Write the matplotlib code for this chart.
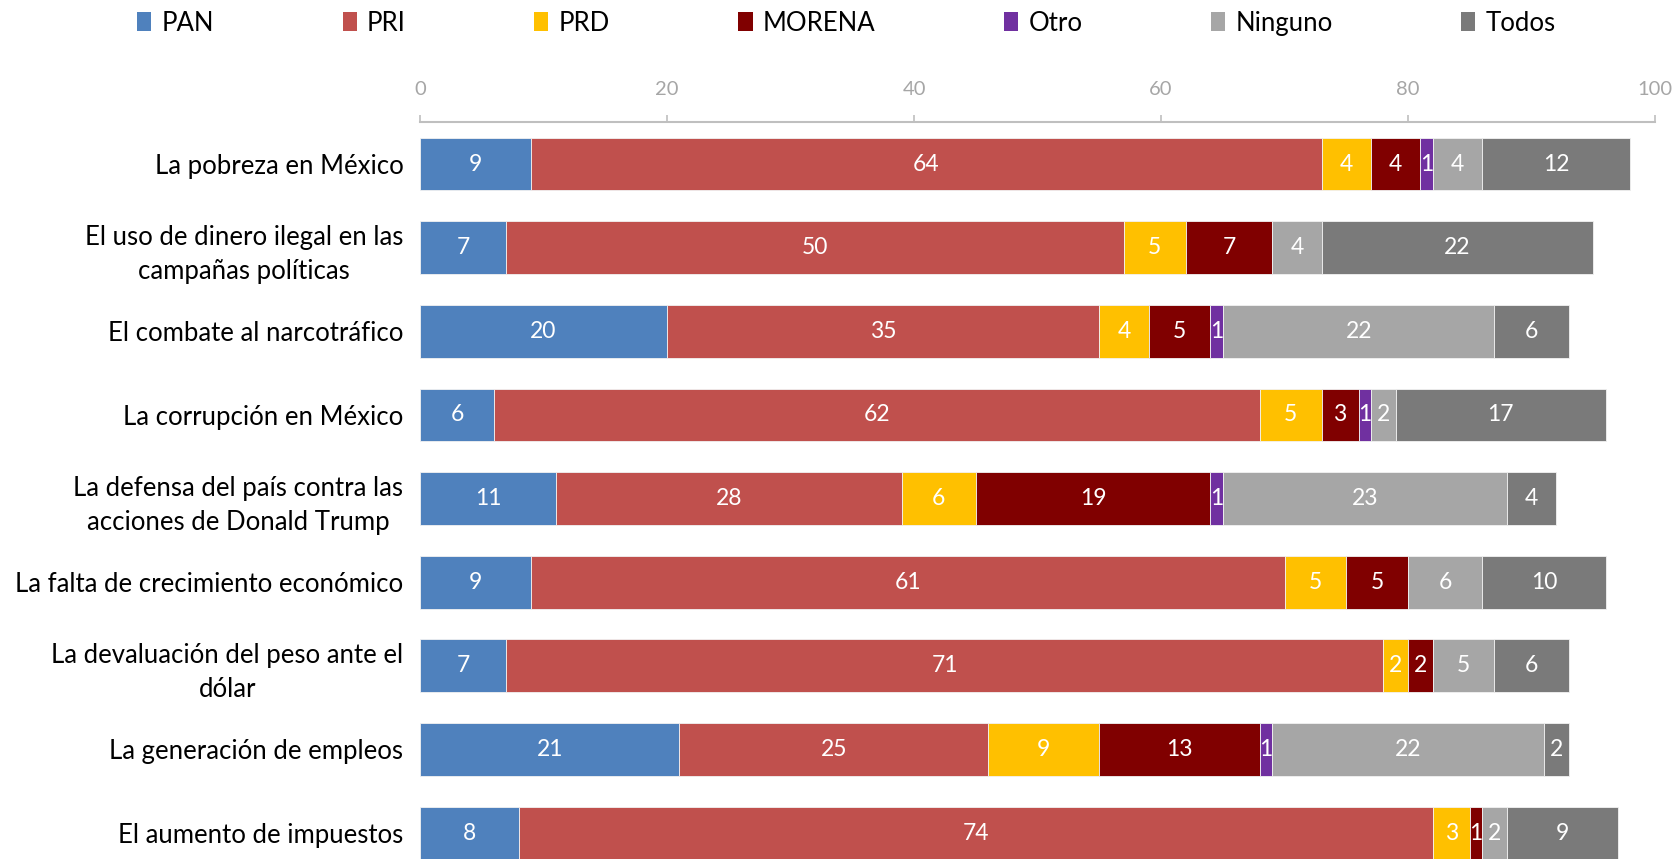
import matplotlib
matplotlib.use("Agg")
import matplotlib.pyplot as plt
from matplotlib.patches import Patch
import numpy as np

plt.rcParams['font.family'] = ['Lato', 'DejaVu Sans']

categories = [
    "La pobreza en México",
    "El uso de dinero ilegal en las\ncampañas políticas",
    "El combate al narcotráfico",
    "La corrupción en México",
    "La defensa del país contra las\nacciones de Donald Trump",
    "La falta de crecimiento económico",
    "La devaluación del peso ante el\ndólar",
    "La generación de empleos",
    "El aumento de impuestos",
]
series_names = ["PAN", "PRI", "PRD", "MORENA", "Otro", "Ninguno", "Todos"]
PAN = [9, 7, 20, 6, 11, 9, 7, 21, 8]
PRI = [64, 50, 35, 62, 28, 61, 71, 25, 74]
PRD = [4, 5, 4, 5, 6, 5, 2, 9, 3]
MORENA = [4, 7, 5, 3, 19, 5, 2, 13, 1]
Otro = [1, 0, 1, 1, 1, 0, 0, 1, 0]
Ninguno = [4, 4, 22, 2, 23, 6, 5, 22, 2]
Todos = [12, 22, 6, 17, 4, 10, 6, 2, 9]
xticks = [0, 20, 40, 60, 80, 100]

series = [PAN, PRI, PRD, MORENA, Otro, Ninguno, Todos]
colors = ["#4F81BD", "#C0504D", "#FFC000", "#800000", "#7030A0", "#A6A6A6", "#7A7A7A"]

fig = plt.figure(figsize=(16.76, 8.59), dpi=100)
ax = fig.add_axes([0.2506, 0.0, 0.7369, 0.8583])

y = np.arange(len(categories))
left = np.zeros(len(categories))
for name, vals, col in zip(series_names, series, colors):
    vals = np.array(vals, dtype=float)
    bars = ax.barh(y, vals, left=left, height=0.63, color=col,
                   edgecolor="#F2F2F2", linewidth=0.6, label=name)
    for b, v in zip(bars, vals):
        if v > 0:
            ax.text(b.get_x() + b.get_width() / 2, b.get_y() + b.get_height() / 2,
                    f"{int(v)}", ha="center", va="center", color="white",
                    fontsize=16.5)
    left += vals

ax.set_xlim(0, 100)
ax.set_ylim(8.31, -0.506)
ax.set_yticks(y)
ax.set_yticklabels(categories, fontsize=18.5, color="black", multialignment="center",
                   linespacing=1.45)
ax.tick_params(axis="y", length=0, pad=12)
ax.xaxis.tick_top()
ax.set_xticks(xticks)
ax.tick_params(axis="x", direction="out", length=5, width=1.2, color="#BFBFBF",
               labelcolor="#A6A6A6", labelsize=14.5, pad=12)
for s in ["left", "right", "bottom"]:
    ax.spines[s].set_visible(False)
ax.spines["top"].set_color("#BFBFBF")
ax.spines["top"].set_linewidth(1.5)

handles = [Patch(facecolor=c, edgecolor="none") for c in colors]
fig.legend(handles, series_names, loc="center", bbox_to_anchor=(0.505, 0.973),
           ncol=7, frameon=False, fontsize=18.5, handlelength=0.55, handleheight=0.75,
           handletextpad=0.4, columnspacing=5.0)

fig.savefig("out.png", dpi=100)
